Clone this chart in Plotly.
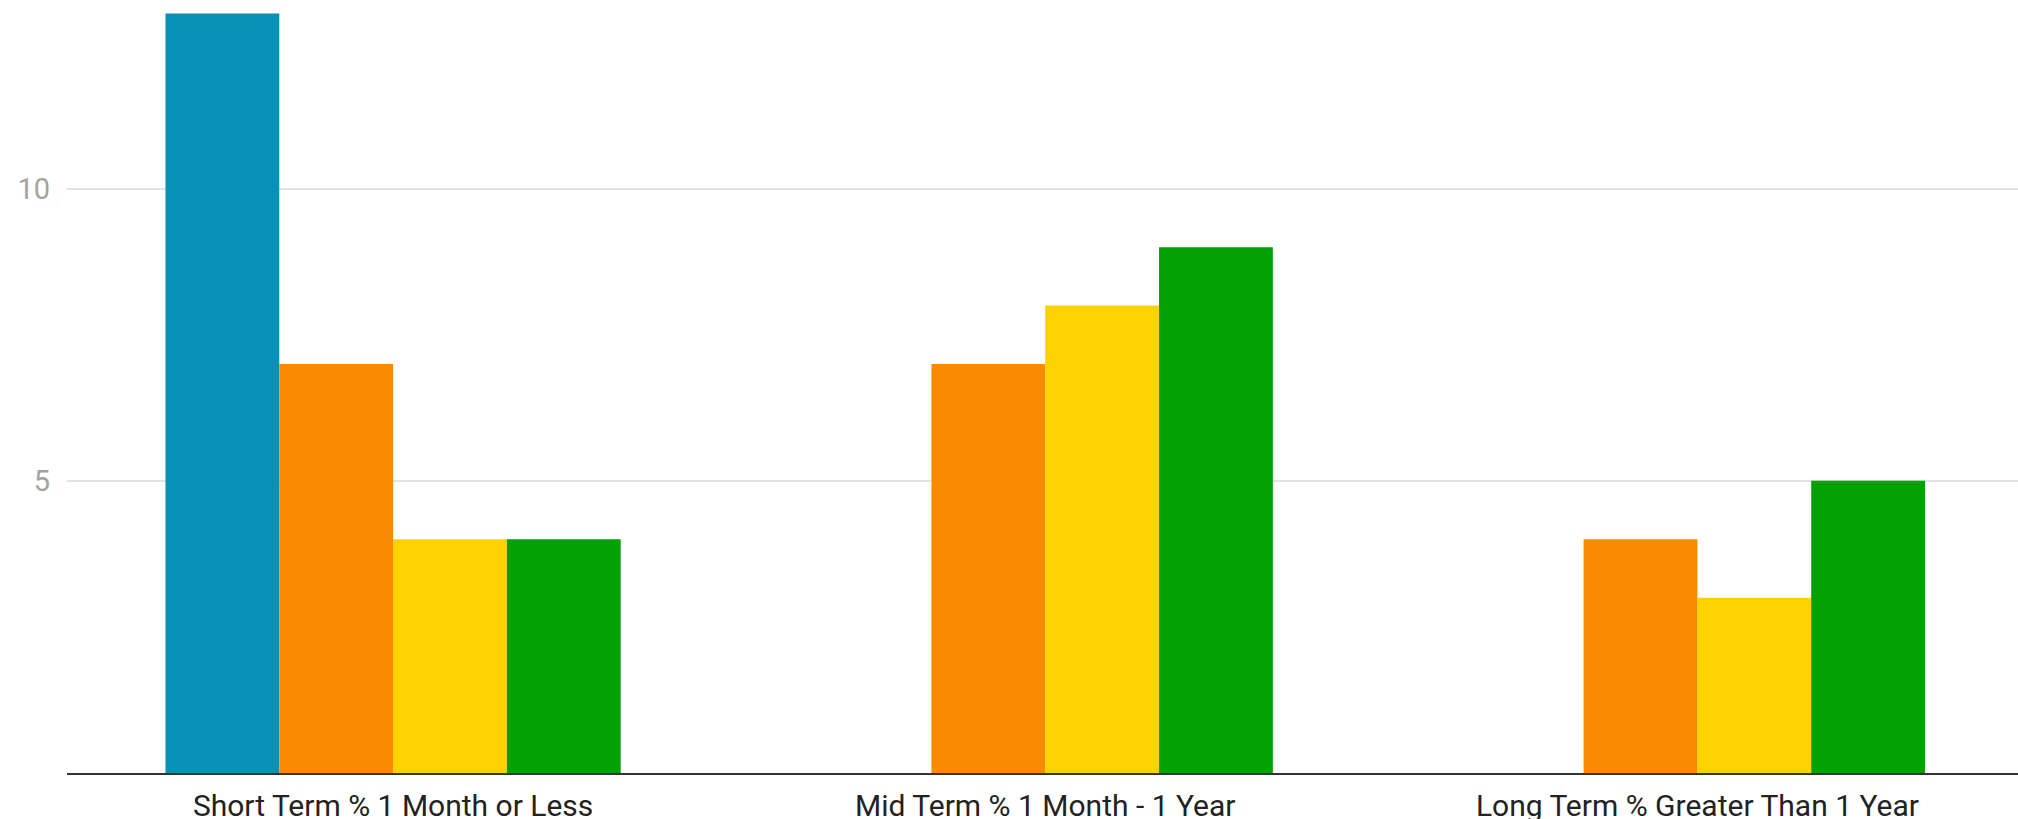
import plotly.graph_objects as go

categories = ["Short Term % 1 Month or Less", "Mid Term % 1 Month - 1 Year", "Long Term % Greater Than 1 Year"]
series_names = ["Series 1", "Series 2", "Series 3", "Series 4"]
series_1 = [13, None, None]
series_2 = [7, 7, 4]
series_3 = [4, 8, 3]
series_4 = [4, 9, 5]
y_ticks = [5, 10]
colors = ["#0891b6", "#f98b00", "#fed100", "#00a100"]

fig = go.Figure()
for name, vals, col in zip(series_names, [series_1, series_2, series_3, series_4], colors):
    fig.add_trace(go.Bar(x=categories, y=vals, name=name, marker=dict(color=col, line=dict(width=0))))

fig.update_layout(
    width=2018, height=819,
    margin=dict(l=67, r=0, t=0, b=46),
    paper_bgcolor="white", plot_bgcolor="white",
    barmode="group", bargap=0.302, bargroupgap=0,
    showlegend=False,
    font=dict(family="Roboto", size=30),
    xaxis=dict(range=[-0.5, 2.4916], showline=True, linecolor="#333333", linewidth=2, automargin=False,
               showgrid=False, ticks="", ticklabelstandoff=5, tickfont=dict(color="#222222", size=30)),
    yaxis=dict(range=[0, 13.23], tickvals=y_ticks, showgrid=True, gridcolor="#e3e3e3", gridwidth=2,
               zeroline=False, showline=False, ticks="", ticklabelstandoff=16, automargin=False,
               tickfont=dict(color="#a3a3a3", size=29)),
)
fig.write_html("out.html")
